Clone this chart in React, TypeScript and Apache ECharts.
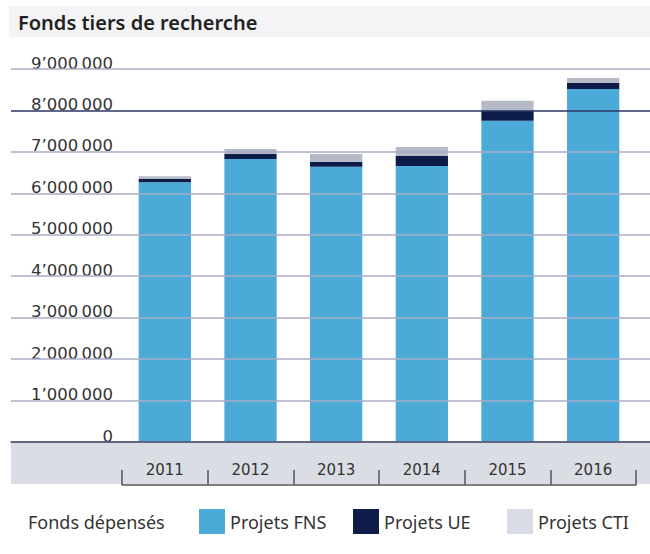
import React, { useEffect, useRef } from "react";
import * as echarts from "echarts";

const categories = ["2011", "2012", "2013", "2014", "2015", "2016"];
const fnsValues = [6270000, 6830000, 6640000, 6660000, 7750000, 8520000];
const ueValues = [75000, 120000, 120000, 240000, 250000, 145000];
const ctiValues = [70000, 120000, 190000, 220000, 235000, 120000];
const yMin = 0;
const yMax = 9000000;
const yInterval = 1000000;
const seriesNames = ["Projets FNS", "Projets UE", "Projets CTI"];

const FONT = "Noto Sans";
const AXIS_FONT = "DejaVu Sans";

function fmt(v: number): string {
  if (v === 0) return "0";
  const s = Math.round(v).toString();
  const parts: string[] = [];
  let i = s.length;
  while (i > 0) {
    parts.unshift(s.slice(Math.max(0, i - 3), i));
    i -= 3;
  }
  if (parts.length === 3) return parts[0] + "\u2019" + parts[1] + "\u2009" + parts[2];
  return parts.join("\u2009");
}

export default function App() {
  const ref = useRef<HTMLDivElement>(null);
  useEffect(() => {
    if (!ref.current) return;
    const chart = echarts.init(ref.current, null, { renderer: "svg" });
    const light = "#a9abc6";
    const dark = "#2c3566";
    const lineColors: string[] = [];
    for (let v = yMin; v <= yMax; v += yInterval) {
      lineColors.push(v === 0 ? "#5b5f7b" : v === 8000000 ? dark : light);
    }
    const colors = ["#4baad7", "#0e1c4a", "#b5bac6"];
    const legendColors = ["#4baad7", "#0e1c4a", "#d9dce4"];
    const legendLefts = [199, 353, 507];
    const option: any = {
      animation: false,
      textStyle: { fontFamily: FONT },
      grid: [
        { left: 11, right: 0, top: 69, height: 373 },
        { left: 122, width: 514, top: 69, height: 373 },
      ],
      xAxis: [
        {
          gridIndex: 0,
          type: "value",
          min: 0,
          max: 1,
          axisLine: { show: true, onZero: false, lineStyle: { color: "#5b5f7b", width: 1.5 } },
          axisTick: { show: false },
          axisLabel: { show: false },
          splitLine: { show: false },
          z: 6,
        },
        {
          gridIndex: 1,
          type: "category",
          data: categories,
          position: "bottom",
          offset: 43,
          axisLine: { show: true, onZero: false, lineStyle: { color: "#555", width: 1.5 } },
          axisTick: { show: true, inside: true, length: 15, lineStyle: { color: "#555", width: 1.5 } },
          axisLabel: { inside: true, margin: 8, fontSize: 15, color: "#333", fontFamily: AXIS_FONT },
          z: 6,
        },
      ],
      yAxis: [
        {
          gridIndex: 0,
          type: "value",
          min: yMin,
          max: yMax,
          interval: yInterval,
          axisLine: { show: false },
          axisTick: { show: false },
          axisLabel: { show: false },
          splitLine: { show: true, lineStyle: { color: lineColors, width: 1.5 } },
          z: 5,
        },
        {
          gridIndex: 1,
          type: "value",
          min: yMin,
          max: yMax,
          interval: yInterval,
          axisLine: { show: false },
          axisTick: { show: false },
          splitLine: { show: false },
          axisLabel: {
            margin: 9,
            fontSize: 16.5,
            color: "#333",
            fontFamily: AXIS_FONT,
            formatter: fmt,
            verticalAlign: "bottom",
            lineHeight: 12,
          },
        },
      ],
      series: [fnsValues, ueValues, ctiValues].map((d, i) => ({
        name: seriesNames[i],
        type: "bar",
        stack: "total",
        xAxisIndex: 1,
        yAxisIndex: 1,
        barWidth: "61%",
        data: d,
        itemStyle: { color: colors[i] },
        z: 2,
      })),
      legend: seriesNames.map((n, i) => ({
        left: legendLefts[i],
        top: 509,
        padding: 0,
        itemWidth: 26,
        itemHeight: 25,
        icon: "rect",
        selectedMode: false,
        data: [{ name: n, itemStyle: { color: legendColors[i] } }],
        textStyle: { fontSize: 18, color: "#333", fontFamily: FONT },
      })),
      graphic: [
        { type: "rect", z: 0, shape: { x: 9, y: 6, width: 641, height: 31 }, style: { fill: "#f4f4f6" } },
        {
          type: "text",
          z: 1,
          style: {
            text: "Fonds tiers de recherche",
            x: 18,
            y: 22,
            fill: "#222",
            fontSize: 20,
            fontWeight: 600,
            fontFamily: FONT,
            verticalAlign: "middle",
          },
        },
        { type: "rect", z: 0, shape: { x: 11, y: 442, width: 639, height: 42 }, style: { fill: "#dadde4" } },
        {
          type: "text",
          z: 1,
          style: {
            text: "Fonds dépensés",
            x: 28,
            y: 522,
            fill: "#333",
            fontSize: 18,
            fontFamily: FONT,
            verticalAlign: "middle",
          },
        },
      ],
    };
    chart.setOption(option);
    return () => chart.dispose();
  }, []);
  return (
    <div
      ref={ref}
      style={{ position: "fixed", left: 0, top: 0, width: 650, height: 554, background: "#fff" }}
    />
  );
}
